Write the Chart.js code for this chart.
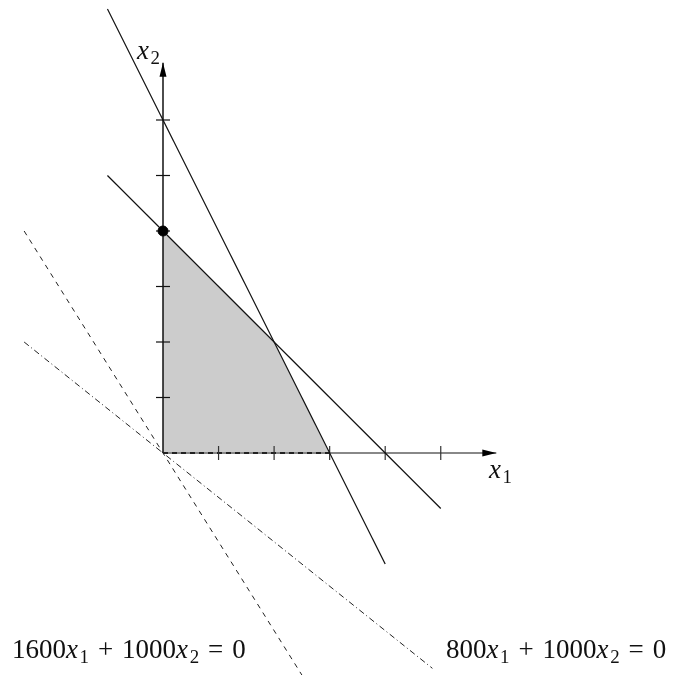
<!DOCTYPE html>
<html>
<head>
<meta charset="utf-8">
<script src="https://cdn.jsdelivr.net/npm/chart.js@4/dist/chart.umd.min.js"></script>
<style>
  html, body { margin: 0; padding: 0; background: #fff; }
  canvas { display: block; }
</style>
</head>
<body>
<canvas id="lp" width="678" height="675"></canvas>
<script>
// feasible region corners (upper boundary, filled down to x2 = 0)
const regionTop = [{ x: 0, y: 4 }, { x: 2, y: 2 }, { x: 3, y: 0 }];
const regionBase = [{ x: 0, y: 0 }, { x: 3, y: 0 }];
// constraints 2x1 + x2 = 6 and x1 + x2 = 4
const constraintA = [{ x: -1, y: 8 }, { x: 4, y: -2 }];
const constraintB = [{ x: -1, y: 5 }, { x: 5, y: -1 }];
// objective lines through the origin
const isoLineA = [{ x: -2.5, y: 4 }, { x: 2.5, y: -4 }];
const isoLineB = [{ x: -2.5, y: 2 }, { x: 4.85, y: -3.88 }];
const optimum = [{ x: 0, y: 4 }];
// axes
const axisEnds = [6, 7.03];
const ticksX1 = [1, 2, 3, 4, 5];
const ticksX2 = [1, 2, 3, 4, 5, 6];
const axisLabels = ['x_1', 'x_2'];
const isoLabels = ['1600x_1 + 1000x_2 = 0', '800x_1 + 1000x_2 = 0'];

const FONT = '"Liberation Serif", "Times New Roman", serif';

// draws simple TeX-like text: letters italic, _d as subscript
function drawMath(ctx, str, x, y, size) {
  let i = 0;
  while (i < str.length) {
    let ch = str[i];
    let sub = false;
    if (ch === '_') { sub = true; ch = str[i + 1]; i++; }
    i++;
    if (ch === ' ') { x += size * 0.27; continue; }
    const s = sub ? size * 0.7 : size;
    const it = /[a-z]/i.test(ch);
    const op = ch === '+' || ch === '=';
    ctx.font = (it ? 'italic ' : '') + s + 'px ' + FONT;
    const w = ctx.measureText(ch).width;
    const pad = op ? size * 0.06 : 0;
    ctx.fillText(ch, x + pad, y + (sub ? size * 0.2 : 0));
    x += w + pad * 2 + (it ? size * 0.06 : 0);
  }
}

const decorations = {
  id: 'decorations',
  afterDatasetsDraw(chart) {
    const { ctx, scales: { x, y } } = chart;
    const ox = x.getPixelForValue(0);
    const oy = y.getPixelForValue(0);
    const tx = x.getPixelForValue(axisEnds[0]);
    const ty = y.getPixelForValue(axisEnds[1]);
    ctx.save();
    ctx.fillStyle = '#000';
    ctx.beginPath();
    ctx.moveTo(tx, oy);
    ctx.lineTo(tx - 14, oy - 3.5);
    ctx.lineTo(tx - 14, oy + 3.5);
    ctx.closePath();
    ctx.fill();
    ctx.beginPath();
    ctx.moveTo(ox, ty);
    ctx.lineTo(ox - 3.5, ty + 14);
    ctx.lineTo(ox + 3.5, ty + 14);
    ctx.closePath();
    ctx.fill();

    ctx.fillStyle = '#111';
    ctx.textBaseline = 'alphabetic';
    drawMath(ctx, axisLabels[0], 489, 478, 27);
    drawMath(ctx, axisLabels[1], 137, 59, 27);
    drawMath(ctx, isoLabels[0], 12, 658, 27);
    drawMath(ctx, isoLabels[1], 446, 658, 27);
    ctx.restore();
  }
};

const line = (data, color, width, dash, order) => ({
  data, showLine: true, borderColor: color, borderWidth: width,
  borderDash: dash, pointRadius: 0, fill: false, order, tension: 0
});

new Chart(document.getElementById('lp'), {
  type: 'scatter',
  data: {
    datasets: [
      {
        data: regionTop, showLine: true, borderWidth: 0, borderColor: 'rgba(0,0,0,0)',
        backgroundColor: '#cccccc', fill: 'origin', pointRadius: 0, order: 10
      },
      line([{ x: 0, y: 0 }, { x: axisEnds[0], y: 0 }], '#888888', 2, [], 9),
      line([{ x: 0, y: 0 }, { x: 0, y: axisEnds[1] }], '#000000', 1.4, [], 8),
      line(regionBase, '#222222', 2, [5, 4], 7),
      line(constraintA, '#111111', 1.2, [], 5),
      line(constraintB, '#111111', 1.2, [], 5),
      line(isoLineA, '#222222', 1, [5, 5], 5),
      line(isoLineB, '#222222', 1, [6, 3, 1, 3], 5),
      {
        data: ticksX1.map(v => ({ x: v, y: 0 })), pointStyle: 'line', rotation: 90,
        pointRadius: 7, borderColor: '#333333', borderWidth: 1.2, order: 6
      },
      {
        data: ticksX2.map(v => ({ x: 0, y: v })), pointStyle: 'line', rotation: 0,
        pointRadius: 7, borderColor: '#111111', borderWidth: 1.2, order: 6
      },
      {
        data: optimum, pointStyle: 'circle', pointRadius: 5,
        backgroundColor: '#000', borderColor: '#000', order: 0
      }
    ]
  },
  options: {
    responsive: false,
    animation: false,
    layout: { padding: 0, autoPadding: false },
    plugins: { legend: { display: false }, tooltip: { enabled: false } },
    scales: {
      x: { type: 'linear', display: false, min: -163 / 55.55, max: (678 - 163) / 55.55 },
      y: { type: 'linear', display: false, min: -(675 - 453) / 55.5, max: 453 / 55.5 }
    }
  },
  plugins: [decorations]
});
</script>
</body>
</html>
